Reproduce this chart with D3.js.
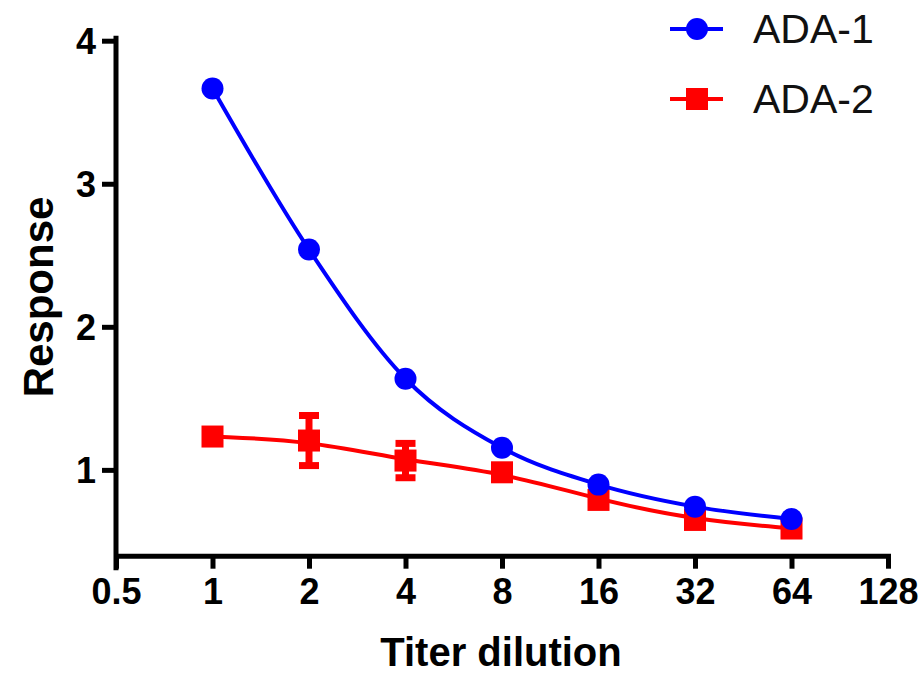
<!DOCTYPE html>
<html>
<head>
<meta charset="utf-8">
<script src="https://cdn.jsdelivr.net/npm/d3@7"></script>
<style>
  body { margin: 0; background: #fff; }
  text { font-family: "Liberation Sans", Arial, sans-serif; }
</style>
</head>
<body>
<div id="chart"></div>
<script>
// data
var dilutions = [1, 2, 4, 8, 16, 32, 64];
var ada1 = [3.666, 2.54, 1.637, 1.154, 0.897, 0.743, 0.657];
var ada2 = [1.233, 1.205, 1.065, 0.983, 0.79, 0.65, 0.59];
var ada2Err = [0, 0.175, 0.12, 0, 0, 0, 0];
var xTicks = [0.5, 1, 2, 4, 8, 16, 32, 64, 128];
var yTicks = [1, 2, 3, 4];
var seriesNames = ["ADA-1", "ADA-2"];

var svgWidth = 921;
var svgHeight = 677;

var margin = { top: 40.7, right: 33, bottom: 121.3, left: 116 };
var width = svgWidth - margin.left - margin.right;
var height = svgHeight - margin.top - margin.bottom;

var svg = d3.select("#chart")
  .append("svg")
  .attr("width", svgWidth)
  .attr("height", svgHeight);

var chartGroup = svg.append("g")
  .attr("transform", `translate(${margin.left}, ${margin.top})`);

// scales
var xScale = d3.scaleLog().base(2)
  .domain([0.5, 128])
  .range([0, width]);

var yScale = d3.scaleLinear()
  .domain([0.4, 4])
  .range([height, 0]);

// axes
var bottomAxis = d3.axisBottom(xScale)
  .tickValues(xTicks)
  .tickFormat(d => String(d))
  .tickSize(13)
  .tickSizeOuter(0)
  .tickPadding(10);

var leftAxis = d3.axisLeft(yScale)
  .tickValues(yTicks)
  .tickFormat(d3.format("d"))
  .tickSize(14)
  .tickSizeOuter(0)
  .tickPadding(6);

var xAxisG = chartGroup.append("g")
  .attr("transform", `translate(0, ${height})`)
  .call(bottomAxis);

var yAxisG = chartGroup.append("g")
  .call(leftAxis);

[xAxisG, yAxisG].forEach(function(g) {
  g.select(".domain")
    .attr("stroke", "#000")
    .attr("stroke-width", 5)
    .attr("stroke-linecap", "square");
  g.selectAll(".tick line")
    .attr("stroke", "#000")
    .attr("stroke-width", 5);
  g.selectAll(".tick text")
    .attr("fill", "#000")
    .style("font-size", "36px")
    .style("font-weight", "bold");
});
// y axis runs a bit below the x axis (where the 0.5 tick sits)
yAxisG.select(".domain").attr("d", `M0,-2.5V${height + 12}`);
xAxisG.selectAll(".tick text").attr("dy", "0.71em");
yAxisG.selectAll(".tick text").attr("dy", "0.36em");

// axis titles
svg.append("text")
  .attr("x", 501)
  .attr("y", 666)
  .attr("text-anchor", "middle")
  .style("font-size", "40px")
  .style("font-weight", "bold")
  .text("Titer dilution");

svg.append("text")
  .attr("transform", "translate(53, 297) rotate(-90)")
  .attr("text-anchor", "middle")
  .style("font-size", "42px")
  .style("font-weight", "bold")
  .text("Response");

// curves
var line1 = d3.line()
  .x(d => xScale(d[0]))
  .y(d => yScale(d[1]))
  .curve(d3.curveMonotoneX);

// the ADA-2 fit is smoother than the points, so use a basis curve
var line2 = d3.line()
  .x(d => xScale(d[0]))
  .y(d => yScale(d[1]))
  .curve(d3.curveBasis);

var red = "#ff0000";
var blue = "#0000ff";

// ADA-2 (drawn first, sits under ADA-1)
chartGroup.append("path")
  .datum(d3.zip(dilutions, ada2))
  .attr("fill", "none")
  .attr("stroke", red)
  .attr("stroke-width", 4)
  .attr("d", line2);

var errG = chartGroup.append("g");
dilutions.forEach(function(x, i) {
  if (!ada2Err[i]) return;
  var cx = xScale(x);
  var top = yScale(ada2[i] + ada2Err[i]);
  var bot = yScale(ada2[i] - ada2Err[i]);
  errG.append("line")
    .attr("x1", cx).attr("x2", cx)
    .attr("y1", top).attr("y2", bot)
    .attr("stroke", red).attr("stroke-width", 7);
  [top, bot].forEach(function(yy) {
    errG.append("line")
      .attr("x1", cx - 10).attr("x2", cx + 10)
      .attr("y1", yy).attr("y2", yy)
      .attr("stroke", red).attr("stroke-width", 7);
  });
});

chartGroup.selectAll(".sq")
  .data(d3.zip(dilutions, ada2))
  .enter().append("rect")
  .attr("class", "sq")
  .attr("x", d => xScale(d[0]) - 11)
  .attr("y", d => yScale(d[1]) - 11)
  .attr("width", 22)
  .attr("height", 22)
  .attr("fill", red);

// ADA-1
chartGroup.append("path")
  .datum(d3.zip(dilutions, ada1))
  .attr("fill", "none")
  .attr("stroke", blue)
  .attr("stroke-width", 4)
  .attr("d", line1);

chartGroup.selectAll(".dot")
  .data(d3.zip(dilutions, ada1))
  .enter().append("circle")
  .attr("class", "dot")
  .attr("cx", d => xScale(d[0]))
  .attr("cy", d => yScale(d[1]))
  .attr("r", 11)
  .attr("fill", blue);

// legend
var legend = svg.append("g");
var legendY = [29, 99];
var legendColors = [blue, red];
seriesNames.forEach(function(name, i) {
  var y = legendY[i];
  legend.append("line")
    .attr("x1", 670).attr("x2", 723)
    .attr("y1", y).attr("y2", y)
    .attr("stroke", legendColors[i])
    .attr("stroke-width", 4);
  if (i === 0) {
    legend.append("circle")
      .attr("cx", 697).attr("cy", y).attr("r", 11)
      .attr("fill", blue);
  } else {
    legend.append("rect")
      .attr("x", 686).attr("y", y - 11)
      .attr("width", 22).attr("height", 22)
      .attr("fill", red);
  }
  legend.append("text")
    .attr("x", 753)
    .attr("y", y + 14)
    .attr("fill", "#111")
    .style("font-size", "41px")
    .text(name);
});
</script>
</body>
</html>
